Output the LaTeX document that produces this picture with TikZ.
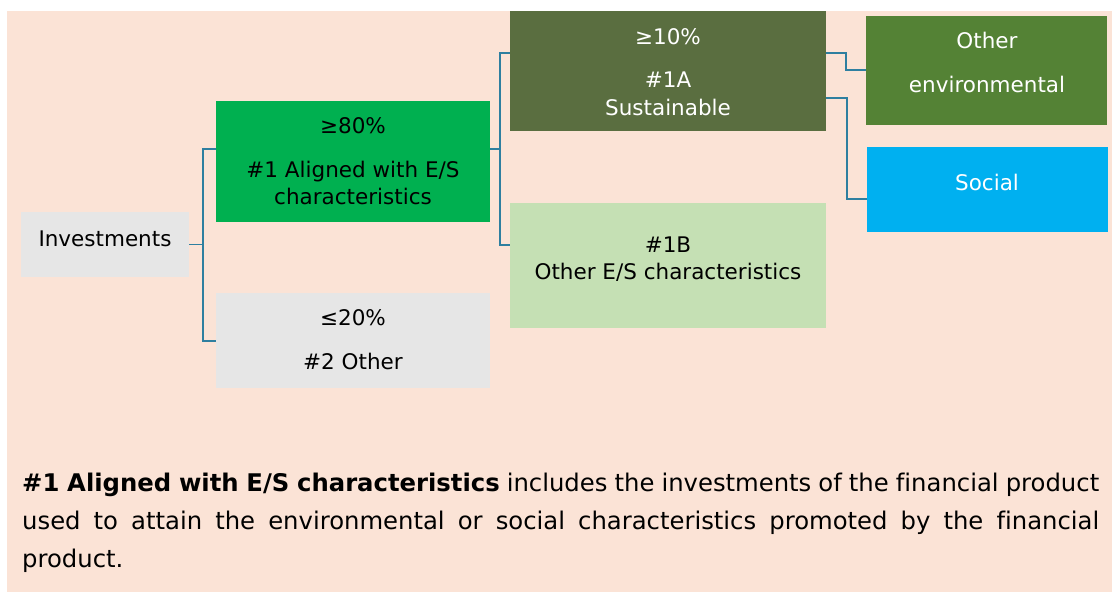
\documentclass[tikz,border=0pt]{standalone}
\usepackage{fontspec}
\setmainfont[Ligatures=NoCommon]{DejaVu Sans}
\definecolor{peach}{HTML}{FBE3D6}
\definecolor{ggreen}{HTML}{00B050}
\definecolor{lgray}{HTML}{E6E6E6}
\definecolor{olive}{HTML}{5A6E40}
\definecolor{envgreen}{HTML}{548235}
\definecolor{lgreen}{HTML}{C5E0B4}
\definecolor{sky}{HTML}{00B0F0}
\definecolor{conncol}{HTML}{2E7FA0}
\tikzset{
  box/.style={anchor=north west, inner sep=0pt, outer sep=0pt, draw=none},
  txt/.style={anchor=base, inner sep=0pt, font=\fontsize{21.5}{26}\selectfont},
  conn/.style={draw=conncol, line width=1.4pt}
}
\begin{document}
\begin{tikzpicture}[x=1pt,y=-1pt]
\useasboundingbox (0,0) rectangle (1115,592);
\fill[peach] (7,11) rectangle (1112,592);
% boxes
\node[box, fill=lgray, minimum width=168pt, minimum height=65pt] (inv) at (21,212) {};
\node[box, fill=ggreen, minimum width=274pt, minimum height=121pt] (g) at (216,101) {};
\node[box, fill=lgray, minimum width=274pt, minimum height=95pt] (o) at (216,293) {};
\node[box, fill=olive, minimum width=316pt, minimum height=120pt] (a) at (510,11) {};
\node[box, fill=lgreen, minimum width=316pt, minimum height=125pt] (b) at (510,203) {};
\node[box, fill=envgreen, minimum width=241pt, minimum height=109pt] (e) at (866,16) {};
\node[box, fill=sky, minimum width=241pt, minimum height=85pt] (s) at (867,147) {};
% texts
\node[txt] (invt) at (105,246) {Investments};
\node[txt] (gt1) at (353,133) {≥80\%};
\node[txt] (gt2) at (353,177) {\#1 Aligned with E/S};
\node[txt] (gt3) at (353,204) {characteristics};
\node[txt] (ot1) at (353,325) {≤20\%};
\node[txt] (ot2) at (353,369) {\#2 Other};
\node[txt, text=white] (at1) at (668,44) {≥10\%};
\node[txt, text=white] (at2) at (668,87) {\#1A};
\node[txt, text=white] (at3) at (668,115) {Sustainable};
\node[txt] (bt1) at (668,252) {\#1B};
\node[txt] (bt2) at (668,279) {Other E/S characteristics};
\node[txt, text=white] (et1) at (987,48) {Other};
\node[txt, text=white] (et2) at (987,92) {environmental};
\node[txt, text=white] (st) at (987,190) {Social};
% connectors
\draw[conn] (inv.east) -| ([xshift=-13pt,yshift=-48pt]g.north west) -- ([yshift=-48pt]g.north west);
\draw[conn] (inv.east) -| ([xshift=-13pt,yshift=-48pt]o.north west) -- ([yshift=-48pt]o.north west);
\draw[conn] ([yshift=-48pt]g.north east) -| ([xshift=-10pt,yshift=-42pt]a.north west) -- ([yshift=-42pt]a.north west);
\draw[conn] ([yshift=-48pt]g.north east) -| ([xshift=-10pt,yshift=-42pt]b.north west) -- ([yshift=-42pt]b.north west);
\draw[conn] ([yshift=-42pt]a.north east) -| ([xshift=-20pt,yshift=-54pt]e.north west) -- ([yshift=-54pt]e.north west);
\draw[conn] ([yshift=-87pt]a.north east) -| ([xshift=-20pt,yshift=-52pt]s.north west) -- ([yshift=-52pt]s.north west);
% bottom paragraph
\node[anchor=base west, inner sep=0pt] (para) at (22,491) {\parbox[t]{1077pt}{\fontsize{24.3}{38}\selectfont
\textbf{\#1 Aligned with E/S characteristics} includes the investments of the financial product\linebreak
used to attain the environmental or social characteristics promoted by the financial\linebreak
product.}};
\end{tikzpicture}
\end{document}
